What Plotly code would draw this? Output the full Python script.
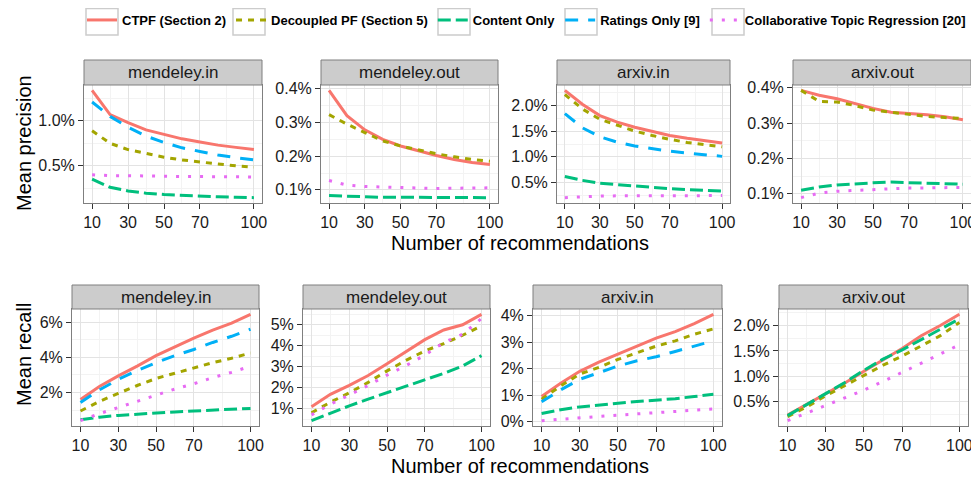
import plotly.graph_objects as go

# ---------------- data ----------------
n_recs = [10, 20, 30, 40, 50, 60, 70, 80, 90, 100]
methods = ["CTPF (Section 2)", "Decoupled PF (Section 5)", "Content Only",
           "Ratings Only [9]", "Collaborative Topic Regression [20]"]
datasets = ["mendeley.in", "mendeley.out", "arxiv.in", "arxiv.out"]

# Mean precision (%)
prec_mendeley_in_ctpf = [1.34, 1.07, 0.98, 0.90, 0.85, 0.80, 0.765, 0.73, 0.705, 0.68]
prec_mendeley_in_decoupled = [0.89, 0.75, 0.68, 0.635, 0.595, 0.565, 0.54, 0.52, 0.50, 0.485]
prec_mendeley_in_content = [0.35, 0.26, 0.22, 0.195, 0.18, 0.17, 0.16, 0.155, 0.15, 0.145]
prec_mendeley_in_ratings = [1.21, 1.05, 0.93, 0.83, 0.76, 0.70, 0.66, 0.62, 0.59, 0.565]
prec_mendeley_in_ctr = [0.40, 0.39, 0.39, 0.385, 0.385, 0.38, 0.38, 0.38, 0.375, 0.375]

prec_mendeley_out_ctpf = [0.395, 0.32, 0.278, 0.25, 0.23, 0.215, 0.202, 0.19, 0.181, 0.175]
prec_mendeley_out_decoupled = [0.323, 0.295, 0.27, 0.245, 0.23, 0.218, 0.207, 0.198, 0.19, 0.185]
prec_mendeley_out_content = [0.083, 0.081, 0.079, 0.078, 0.078, 0.078, 0.078, 0.078, 0.077, 0.077]
prec_mendeley_out_ctr = [0.128, 0.114, 0.11, 0.108, 0.106, 0.105, 0.104, 0.105, 0.106, 0.106]

prec_arxiv_in_ctpf = [2.29, 2.02, 1.80, 1.675, 1.575, 1.49, 1.415, 1.36, 1.315, 1.27]
prec_arxiv_in_decoupled = [2.21, 1.93, 1.73, 1.61, 1.50, 1.415, 1.34, 1.28, 1.235, 1.195]
prec_arxiv_in_content = [0.62, 0.545, 0.49, 0.46, 0.43, 0.41, 0.385, 0.365, 0.35, 0.34]
prec_arxiv_in_ratings = [1.84, 1.565, 1.39, 1.285, 1.21, 1.155, 1.11, 1.075, 1.04, 1.01]
prec_arxiv_in_ctr = [0.21, 0.23, 0.24, 0.245, 0.245, 0.245, 0.245, 0.25, 0.25, 0.25]

prec_arxiv_out_ctpf = [0.393, 0.379, 0.369, 0.355, 0.342, 0.331, 0.328, 0.324, 0.318, 0.31]
prec_arxiv_out_decoupled = [0.393, 0.362, 0.36, 0.35, 0.337, 0.331, 0.323, 0.319, 0.316, 0.313]
prec_arxiv_out_content = [0.110, 0.119, 0.125, 0.129, 0.131, 0.133, 0.131, 0.130, 0.129, 0.127]
prec_arxiv_out_ctr = [0.089, 0.102, 0.107, 0.110, 0.112, 0.114, 0.116, 0.117, 0.118, 0.118]

# Mean recall (%)
rec_mendeley_in_ctpf = [1.6, 2.35, 2.95, 3.5, 4.1, 4.6, 5.1, 5.55, 5.95, 6.45]
rec_mendeley_in_decoupled = [0.95, 1.5, 1.95, 2.4, 2.8, 3.1, 3.4, 3.7, 3.95, 4.25]
rec_mendeley_in_content = [0.45, 0.6, 0.7, 0.78, 0.85, 0.9, 0.95, 1.0, 1.05, 1.1]
rec_mendeley_in_ratings = [1.43, 2.15, 2.75, 3.25, 3.7, 4.1, 4.45, 4.85, 5.2, 5.6]
rec_mendeley_in_ctr = [0.4, 0.8, 1.15, 1.5, 1.85, 2.2, 2.5, 2.85, 3.15, 3.5]

rec_mendeley_out_ctpf = [1.08, 1.68, 2.11, 2.58, 3.14, 3.72, 4.29, 4.75, 5.0, 5.5]
rec_mendeley_out_decoupled = [0.8, 1.3, 1.75, 2.25, 2.8, 3.3, 3.75, 4.1, 4.5, 4.95]
rec_mendeley_out_content = [0.42, 0.78, 1.13, 1.45, 1.76, 2.08, 2.39, 2.68, 3.03, 3.53]
rec_mendeley_out_ctr = [0.7, 1.2, 1.65, 2.1, 2.6, 3.05, 3.55, 4.15, 4.55, 5.3]

rec_arxiv_in_ctpf = [0.95, 1.45, 1.9, 2.25, 2.55, 2.85, 3.15, 3.4, 3.7, 4.05]
rec_arxiv_in_decoupled = [0.85, 1.35, 1.8, 2.05, 2.35, 2.6, 2.85, 3.05, 3.3, 3.5]
rec_arxiv_in_content = [0.31, 0.45, 0.56, 0.64, 0.7, 0.76, 0.81, 0.87, 0.95, 1.04]
rec_arxiv_in_ratings = [0.75, 1.2, 1.6, 1.85, 2.1, 2.3, 2.45, 2.65, 2.85, 3.05]
rec_arxiv_in_ctr = [0.04, 0.1, 0.16, 0.2, 0.25, 0.3, 0.35, 0.4, 0.44, 0.48]

rec_arxiv_out_ctpf = [0.24, 0.45, 0.67, 0.87, 1.1, 1.32, 1.55, 1.8, 2.0, 2.22]
rec_arxiv_out_decoupled = [0.21, 0.4, 0.62, 0.82, 1.03, 1.22, 1.4, 1.6, 1.8, 2.06]
rec_arxiv_out_content = [0.23, 0.45, 0.66, 0.88, 1.12, 1.34, 1.52, 1.72, 1.92, 2.13]
rec_arxiv_out_ctr = [0.13, 0.28, 0.42, 0.57, 0.73, 0.9, 1.08, 1.27, 1.45, 1.62]

x_ticks = [10, 30, 50, 70, 100]
x_minor = [20, 40, 60, 85]

ytick_prec_mendeley_in = [0.5, 1.0]
ytick_prec_mendeley_out = [0.1, 0.2, 0.3, 0.4]
ytick_prec_arxiv_in = [0.5, 1.0, 1.5, 2.0]
ytick_prec_arxiv_out = [0.1, 0.2, 0.3, 0.4]
ytick_rec_mendeley_in = [2, 4, 6]
ytick_rec_mendeley_out = [1, 2, 3, 4, 5]
ytick_rec_arxiv_in = [0, 1, 2, 3, 4]
ytick_rec_arxiv_out = [0.5, 1.0, 1.5, 2.0]

# ---------------- assemble panels ----------------
panels = [
    ("mendeley.in", [prec_mendeley_in_ctpf, prec_mendeley_in_decoupled, prec_mendeley_in_content,
                     prec_mendeley_in_ratings, prec_mendeley_in_ctr], ytick_prec_mendeley_in, 1),
    ("mendeley.out", [prec_mendeley_out_ctpf, prec_mendeley_out_decoupled, prec_mendeley_out_content,
                      None, prec_mendeley_out_ctr], ytick_prec_mendeley_out, 1),
    ("arxiv.in", [prec_arxiv_in_ctpf, prec_arxiv_in_decoupled, prec_arxiv_in_content,
                  prec_arxiv_in_ratings, prec_arxiv_in_ctr], ytick_prec_arxiv_in, 1),
    ("arxiv.out", [prec_arxiv_out_ctpf, prec_arxiv_out_decoupled, prec_arxiv_out_content,
                   None, prec_arxiv_out_ctr], ytick_prec_arxiv_out, 1),
    ("mendeley.in", [rec_mendeley_in_ctpf, rec_mendeley_in_decoupled, rec_mendeley_in_content,
                     rec_mendeley_in_ratings, rec_mendeley_in_ctr], ytick_rec_mendeley_in, 0),
    ("mendeley.out", [rec_mendeley_out_ctpf, rec_mendeley_out_decoupled, rec_mendeley_out_content,
                      None, rec_mendeley_out_ctr], ytick_rec_mendeley_out, 0),
    ("arxiv.in", [rec_arxiv_in_ctpf, rec_arxiv_in_decoupled, rec_arxiv_in_content,
                  rec_arxiv_in_ratings, rec_arxiv_in_ctr], ytick_rec_arxiv_in, 0),
    ("arxiv.out", [rec_arxiv_out_ctpf, rec_arxiv_out_decoupled, rec_arxiv_out_content,
                   None, rec_arxiv_out_ctr], ytick_rec_arxiv_out, 1),
]

# ---------------- style ----------------
OFF = 8                      # page body margin of the html page
W, H = 979 - OFF, 477 - OFF  # figure size so that the page area is filled


def px(x):   # page x pixel -> paper fraction
    return (x - OFF) / W


def py(y):   # page y pixel -> paper fraction
    return 1 - (y - OFF) / H


FONT = "Liberation Sans, Arial, Helvetica, sans-serif"
colors = ["#F8766D", "#A3A500", "#00BF7D", "#00B0F6", "#E76BF3"]
dashes = ["solid", "6px,6px", "13px,5px", "13px,10px", "3px,9px"]

# panel pixel boxes (page coords): (left, right, strip_top, panel_top, panel_bottom)
boxes = [
    (84, 262, 60, 85, 203), (321, 498, 60, 85, 203),
    (557, 730, 60, 85, 203), (793, 971, 60, 85, 203),
    (72, 259, 285, 309, 426), (303, 490, 285, 309, 426),
    (533, 722, 285, 309, 426), (779, 968, 285, 309, 426),
]

fig = go.Figure()
shapes = []
annotations = []
shown = set()

for i, (label, series, yt, dec) in enumerate(panels):
    k = i + 1
    xa = "x" if k == 1 else f"x{k}"
    ya = "y" if k == 1 else f"y{k}"
    for m, vals in enumerate(series):
        if vals is None:
            continue
        fig.add_trace(go.Scatter(
            x=n_recs, y=vals, mode="lines", name=methods[m],
            legendgroup=methods[m], showlegend=(m not in shown),
            line=dict(color=colors[m], width=3, dash=dashes[m]),
            xaxis=xa, yaxis=ya, hoverinfo="skip"))
        shown.add(m)

    allv = [v for s in series if s is not None for v in s]
    lo, hi = min(allv), max(allv)
    pad = (hi - lo) * 0.05
    yr = [lo - pad, hi + pad]
    step = yt[1] - yt[0]
    yminor = [yt[0] - step / 2] + [(a + b) / 2 for a, b in zip(yt[:-1], yt[1:])] + [yt[-1] + step / 2]

    left, right, stop, ptop, pbot = boxes[i]
    xd = [px(left), px(right)]
    yd = [py(pbot), py(ptop)]
    axkey = "" if k == 1 else str(k)
    common = dict(showline=True, mirror=True, linecolor="#7F7F7F", linewidth=1,
                  ticks="outside", ticklen=5, tickcolor="#333333", tickwidth=1,
                  gridcolor="#E3E3E3", gridwidth=1, zeroline=False,
                  tickfont=dict(family=FONT, size=16, color="#1A1A1A"))
    fig.update_layout(**{
        f"xaxis{axkey}": dict(domain=xd, anchor=ya, range=[5.5, 104.5],
                              tickmode="array", tickvals=x_ticks,
                              minor=dict(tickmode="array", tickvals=x_minor, showgrid=True,
                                         gridcolor="#F3F3F3", gridwidth=1, ticks=""),
                              **common),
        f"yaxis{axkey}": dict(domain=yd, anchor=xa, range=yr, tickmode="array", tickvals=yt,
                              ticktext=[f"{v:.{dec}f}%" for v in yt],
                              minor=dict(tickmode="array", tickvals=yminor, showgrid=True,
                                         gridcolor="#F3F3F3", gridwidth=1, ticks=""),
                              **common),
    })
    # facet strip
    shapes.append(dict(type="rect", xref="paper", yref="paper",
                       x0=px(left), x1=px(right), y0=py(ptop), y1=py(stop),
                       fillcolor="#CCCCCC", line=dict(color="#7F7F7F", width=1), layer="above"))
    annotations.append(dict(text=label, xref="paper", yref="paper",
                            x=px((left + right) / 2), y=py((stop + ptop) / 2),
                            xanchor="center", yanchor="middle", showarrow=False,
                            font=dict(family=FONT, size=17, color="#1A1A1A")))

# legend key boxes (page x of each legend item start)
legend_item_starts = [82, 229, 434, 561, 708]
for s in legend_item_starts:
    shapes.append(dict(type="rect", xref="paper", yref="paper",
                       x0=px(s + 4), x1=px(s + 36), y0=py(35), y1=py(8.5),
                       fillcolor="white", line=dict(color="#CCCCCC", width=1.5), layer="below"))

# shared axis titles
title_font = dict(family=FONT, size=20, color="#000000")
annotations += [
    dict(text="Number of recommendations", xref="paper", yref="paper", x=px(520), y=py(243),
         xanchor="center", yanchor="middle", showarrow=False, font=title_font),
    dict(text="Number of recommendations", xref="paper", yref="paper", x=px(520), y=py(466),
         xanchor="center", yanchor="middle", showarrow=False, font=title_font),
    dict(text="Mean precision", xref="paper", yref="paper", x=px(24), y=py(143), textangle=-90,
         xanchor="center", yanchor="middle", showarrow=False, font=title_font),
    dict(text="Mean recall", xref="paper", yref="paper", x=px(24), y=py(355), textangle=-90,
         xanchor="center", yanchor="middle", showarrow=False, font=title_font),
]

fig.update_layout(
    width=W, height=H,
    margin=dict(l=0, r=0, t=0, b=0, autoexpand=False),
    paper_bgcolor="white", plot_bgcolor="white",
    shapes=shapes, annotations=annotations,
    showlegend=True,
    legend=dict(orientation="h", x=px(82), xanchor="left", y=py(20), yanchor="middle",
                font=dict(family=FONT, size=13, color="#000000", weight="bold"),
                bgcolor="rgba(0,0,0,0)", itemwidth=30, tracegroupgap=0, borderwidth=0),
    font=dict(family=FONT),
)

fig.write_html("out.html")
